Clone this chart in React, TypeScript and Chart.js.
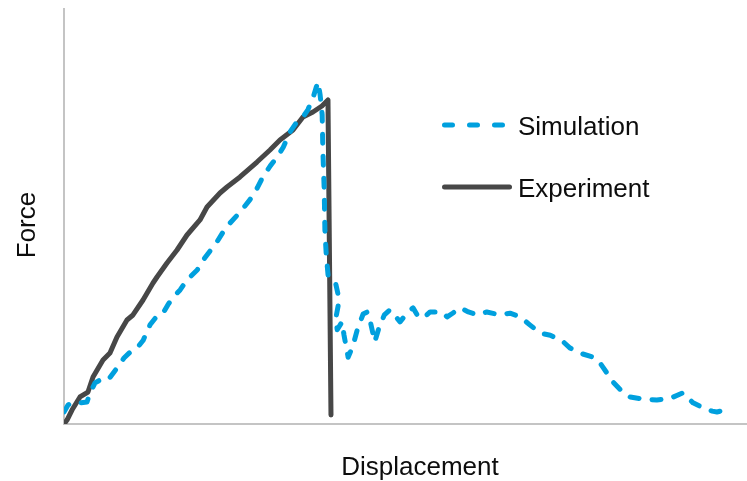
import React, { useEffect, useRef } from "react";
import { Chart, registerables } from "chart.js";

Chart.register(...registerables);

// Force–displacement curves (arbitrary units: displacement 0–100, force 0–100)
const simDisplacement = [
  0, 0.59, 1.46, 2.34, 3.37, 3.81, 4.54, 5.27, 6.44, 7.76, 8.78, 9.66, 10.7, 11.6, 12.6, 13.6,
  14.5, 15.2, 16.0, 17.0, 18.0, 19.5, 20.6, 22.4, 23.3, 24.3, 25.8, 27.2, 28.3, 29.1, 30.2,
  31.2, 32.1, 33.1, 34.1, 35.0, 35.7, 36.5, 36.9, 37.2, 37.5, 37.8, 37.9, 38.1, 38.2, 38.4,
  38.7, 39.8, 40.3, 39.8, 40.0, 40.7, 41.0, 41.6, 42.3, 43.0, 43.8, 44.4, 44.9, 45.5, 46.1,
  46.9, 47.7, 48.6, 49.2, 50.2, 51.1, 51.8, 52.6, 53.6, 55.3, 56.1, 56.9, 58.0, 59.2, 60.5,
  61.9, 63.8, 65.3, 66.8, 68.2, 69.7, 71.2, 73.1, 74.1, 75.5, 77.5, 78.2, 78.9, 80.4, 81.8,
  82.9, 84.8, 86.8, 88.0, 89.2, 90.6, 92.1, 93.6, 94.9, 95.6, 96.8,
];
const simForce = [
  2.9, 4.6, 5.3, 5.1, 5.3, 7.5, 9.9, 10.6, 10.6, 13.5, 15.9, 17.3, 18.3, 20.2, 23.9, 26.0,
  26.7, 28.7, 30.6, 32.3, 34.7, 37.1, 40.0, 43.9, 46.3, 48.4, 51.1, 54.0, 56.9, 59.5, 62.2,
  64.3, 66.7, 70.4, 72.8, 74.0, 75.7, 78.8, 81.0, 82.4, 79.3, 74.5, 66.0, 56.4, 46.7, 40.7,
  35.2, 33.7, 29.9, 25.5, 22.7, 24.6, 21.4, 16.1, 18.8, 23.1, 26.5, 27.0, 24.3, 19.8, 23.1,
  26.3, 27.5, 25.8, 24.6, 26.7, 28.0, 26.0, 25.5, 27.0, 27.0, 25.8, 26.7, 28.0, 27.0, 26.3,
  27.0, 26.3, 26.7, 25.8, 23.9, 21.9, 21.4, 19.8, 18.3, 17.1, 16.1, 15.4, 13.7, 10.1, 7.7,
  6.5, 6.0, 5.8, 6.0, 6.5, 7.5, 5.1, 3.9, 3.1, 2.9, 3.4,
];

const expDisplacement = [
  0, 0.44, 1.17, 2.34, 3.51, 4.25, 5.71, 6.73, 7.76, 9.22, 10.1, 11.57, 13.03, 13.62, 15.08,
  16.55, 18.01, 19.91, 20.94, 22.84, 23.87, 25.77, 28.26, 30.16, 31.62, 33.53, 34.99, 36.45,
  37.77, 38.65, 39.09,
];
const expForce = [
  0, 0.96, 3.37, 6.51, 7.71, 11.33, 15.42, 17.11, 20.96, 25.06, 26.27, 29.88, 33.98, 35.42,
  38.8, 41.93, 45.54, 49.16, 52.29, 55.66, 57.11, 59.52, 63.13, 66.02, 68.43, 70.84, 73.98,
  75.18, 76.63, 78.07, 2.17,
];

const seriesNames = ["Simulation", "Experiment"];
const axisTitles = { x: "Displacement", y: "Force" };

const SIM_COLOR = "#00a0de";
const EXP_COLOR = "#474747";
const TEXT_COLOR = "#0d0d0d";
const FONT = '26px "Liberation Sans", Arial, sans-serif';

const toPoints = (xs: number[], ys: number[]) => xs.map((x, i) => ({ x, y: ys[i] }));

// Axis titles and the in-plot legend
const annotations = {
  id: "annotations",
  afterDraw(chart: Chart) {
    const { ctx } = chart;
    ctx.save();
    ctx.font = FONT;
    ctx.fillStyle = TEXT_COLOR;
    ctx.textBaseline = "alphabetic";

    // x title
    ctx.textAlign = "center";
    ctx.fillText(axisTitles.x, 420, 475);

    // y title, rotated
    ctx.save();
    ctx.translate(35, 225);
    ctx.rotate(-Math.PI / 2);
    ctx.fillText(axisTitles.y, 0, 0);
    ctx.restore();

    // legend
    ctx.lineWidth = 5;
    ctx.lineCap = "round";
    ctx.strokeStyle = SIM_COLOR;
    ctx.setLineDash([8, 17]);
    ctx.beginPath();
    ctx.moveTo(444.5, 125);
    ctx.lineTo(505, 125);
    ctx.stroke();

    ctx.strokeStyle = EXP_COLOR;
    ctx.setLineDash([]);
    ctx.beginPath();
    ctx.moveTo(444.5, 187);
    ctx.lineTo(509.5, 187);
    ctx.stroke();

    ctx.textAlign = "left";
    ctx.fillText(seriesNames[0], 518, 135);
    ctx.fillText(seriesNames[1], 518, 197);
    ctx.restore();
  },
};

export default function App() {
  const canvasRef = useRef<HTMLCanvasElement>(null);

  useEffect(() => {
    const canvas = canvasRef.current;
    if (!canvas) return;
    const chart = new Chart(canvas, {
      type: "line",
      data: {
        datasets: [
          {
            label: seriesNames[0],
            data: toPoints(simDisplacement, simForce),
            borderColor: SIM_COLOR,
            borderWidth: 5,
            borderDash: [9, 13],
            borderCapStyle: "round",
            borderJoinStyle: "round",
            pointRadius: 0,
            tension: 0,
            fill: false,
          },
          {
            label: seriesNames[1],
            data: toPoints(expDisplacement, expForce),
            borderColor: EXP_COLOR,
            borderWidth: 5,
            borderCapStyle: "round",
            borderJoinStyle: "round",
            pointRadius: 0,
            tension: 0,
            fill: false,
          },
        ],
      },
      options: {
        animation: false,
        responsive: false,
        devicePixelRatio: 1,
        layout: { padding: { left: 64, top: 9, right: 0, bottom: 57 } },
        plugins: {
          legend: { display: false },
          tooltip: { enabled: false },
        },
        scales: {
          x: {
            type: "linear",
            min: 0,
            max: 100,
            ticks: { display: false },
            grid: { display: false, drawTicks: false },
            border: { display: true, color: "#c4c4c4", width: 2 },
          },
          y: {
            type: "linear",
            min: 0,
            max: 100,
            ticks: { display: false },
            grid: { display: false, drawTicks: false },
            border: { display: true, color: "#c4c4c4", width: 2 },
          },
        },
      },
      plugins: [annotations],
    });
    return () => chart.destroy();
  }, []);

  return (
    <div style={{ position: "absolute", left: 0, top: 0, width: 747, height: 481, background: "#fff" }}>
      <canvas ref={canvasRef} width={747} height={481} />
    </div>
  );
}
